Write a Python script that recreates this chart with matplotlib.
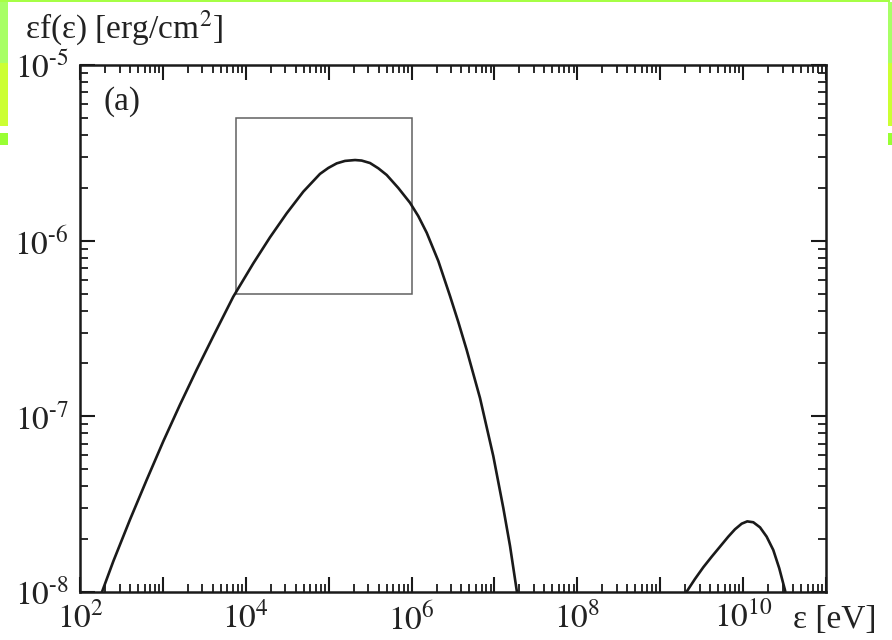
import math

import matplotlib
matplotlib.use("Agg")
import matplotlib.pyplot as plt
import numpy as np
from matplotlib.patches import Rectangle
from matplotlib.ticker import LogLocator, FuncFormatter, NullFormatter

plt.rcParams["font.family"] = ["Liberation Serif", "DejaVu Serif"]
plt.rcParams["mathtext.fontset"] = "stix"

# Low-energy hump: log10 of energy [eV] and of eps*f(eps) [erg/cm^2]
log_energy_low = [2.247, 2.402, 2.603, 2.805, 3.005, 3.206, 3.408, 3.608, 3.849,
                  4.091, 4.292, 4.494, 4.694, 4.895, 4.996, 5.097, 5.197, 5.318,
                  5.398, 5.499, 5.599, 5.700, 5.840, 5.981, 6.081, 6.183, 6.323,
                  6.464, 6.564, 6.665, 6.826, 6.986, 7.107, 7.188, 7.268, 7.284]
log_flux_low = [-8.023, -7.825, -7.588, -7.361, -7.142, -6.934, -6.734, -6.544,
                -6.319, -6.129, -5.981, -5.844, -5.721, -5.620, -5.586, -5.560,
                -5.546, -5.541, -5.544, -5.558, -5.588, -5.626, -5.700, -5.784,
                -5.860, -5.955, -6.116, -6.315, -6.463, -6.622, -6.896, -7.226,
                -7.522, -7.738, -7.989, -8.034]

# High-energy hump
log_energy_high = [9.299, 9.319, 9.419, 9.520, 9.621, 9.721, 9.821, 9.902, 9.983,
                   10.050, 10.123, 10.204, 10.284, 10.364, 10.436, 10.505, 10.517]
log_flux_high = [-8.017, -7.998, -7.926, -7.859, -7.799, -7.742, -7.685, -7.643,
                 -7.611, -7.598, -7.603, -7.632, -7.685, -7.761, -7.865, -7.989,
                 -8.017]

# Zoom window outline
box_energy = [7.6e3, 1.0e6]
box_flux = [5.0e-7, 5.0e-6]

x_limits = [1e2, 1e11]
y_limits = [1e-8, 1e-5]

fig = plt.figure(figsize=(8.92, 6.40), dpi=100)
ax = fig.add_axes([80 / 892, 1 - 592 / 640, 746 / 892, 527 / 640])
ax.set_xscale("log")
ax.set_yscale("log")
ax.set_xlim(x_limits)
ax.set_ylim(y_limits)

for le, lf in [(log_energy_low, log_flux_low), (log_energy_high, log_flux_high)]:
    ax.plot(10 ** np.array(le), 10 ** np.array(lf), color="#1a1a1a", lw=1.9,
            solid_joinstyle="round", solid_capstyle="round")

ax.add_patch(Rectangle((box_energy[0], box_flux[0]),
                       box_energy[1] - box_energy[0], box_flux[1] - box_flux[0],
                       fill=False, edgecolor="#606060", lw=1.1))

for s in ax.spines.values():
    s.set_linewidth(1.8)
    s.set_color("#1a1a1a")

ax.xaxis.set_major_locator(LogLocator(base=10, numticks=20))
ax.xaxis.set_minor_locator(LogLocator(base=10, subs=range(2, 10), numticks=20))
ax.yaxis.set_major_locator(LogLocator(base=10, numticks=20))
ax.yaxis.set_minor_locator(LogLocator(base=10, subs=range(2, 10), numticks=20))


def xfmt(v, pos):
    e = int(round(math.log10(v)))
    return r"$10^{%d}$" % e if e % 2 == 0 and e < 11 else ""


def yfmt(v, pos):
    e = int(round(math.log10(v)))
    return r"$10^{\text{-}%d}$" % (-e) if e < 0 else r"$10^{%d}$" % e


ax.xaxis.set_major_formatter(FuncFormatter(xfmt))
ax.yaxis.set_major_formatter(FuncFormatter(yfmt))
ax.xaxis.set_minor_formatter(NullFormatter())
ax.yaxis.set_minor_formatter(NullFormatter())

ax.tick_params(which="both", direction="in", top=True, right=True,
               color="#1a1a1a", labelsize=24, labelcolor="#222222")
ax.tick_params(which="major", length=11, width=1.5)
ax.tick_params(which="minor", length=5.5, width=1.3)
ax.tick_params(axis="x", which="major", pad=7)
ax.tick_params(axis="y", which="major", pad=8)

ax.text(0.031, 0.93, "(a)", transform=ax.transAxes, fontsize=24,
        color="#222222", va="center", ha="left")

fig.text(25 / 892, 1 - 28 / 640, "εf(ε) [erg/cm$^2$]", fontsize=24,
         color="#222222", va="center", ha="left")
fig.text(793 / 892, 1 - 620 / 640, "ε [eV]", fontsize=24,
         color="#222222", va="center", ha="left")

# Slide frame accents
green_bits = [
    (0, 0, 890, 2, "#a6ff45"),
    (0, 2, 8, 61, "#a8ff66"),
    (0, 63, 8, 63, "#ccff33"),
    (0, 133, 8, 12, "#99ff33"),
    (888, 2, 4, 61, "#a8ff66"),
    (888, 63, 4, 63, "#ccff33"),
    (888, 133, 4, 12, "#99ff33"),
]
for gx, gy, gw, gh, gc in green_bits:
    fig.patches.append(Rectangle((gx / 892, 1 - (gy + gh) / 640), gw / 892, gh / 640,
                                 transform=fig.transFigure, color=gc, lw=0))

fig.savefig("out.png", dpi=100)
